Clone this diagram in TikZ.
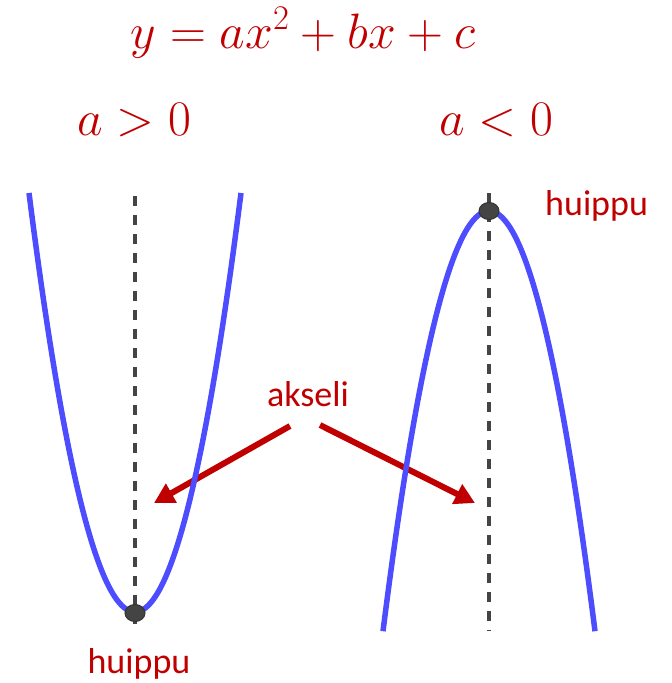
\documentclass[tikz,border=0pt]{standalone}
\usepackage{fontspec}
\newfontfamily\lblfont{Carlito}
\usetikzlibrary{arrows.meta,shapes.geometric}
\definecolor{dred}{RGB}{192,0,0}
\definecolor{pblue}{RGB}{77,77,255}
\definecolor{dgray}{RGB}{68,68,68}
\begin{document}
\begin{tikzpicture}[x=1pt,y=-1pt,
  mathtext/.style={text=dred,inner sep=0pt,anchor=base,font=\fontsize{24}{26}\selectfont,scale=2},
  lbltext/.style={text=dred,inner sep=0pt,anchor=base,font=\lblfont\fontsize{36}{40}\selectfont},
  axisline/.style={dgray,line width=4.5pt,dash pattern=on 10pt off 9pt},
  curve/.style={pblue,line width=5.5pt},
  vertexdot/.style={ellipse,fill=dgray,draw=black!80,line width=1pt,minimum width=20pt,minimum height=17pt,inner sep=0pt},
  pointer/.style={dred,line width=6pt,-{Triangle[length=20pt,width=21pt]}}]
\useasboundingbox (0,0) rectangle (672,683);
% texts
\node[mathtext] (title) at (303,48) {$y=ax^2+bx+c$};
\node[mathtext] (apos) at (134,135) {$a>0$};
\node[mathtext] (aneg) at (496,135) {$a<0$};
\node[lbltext] (akseli) at (308,406) {akseli};
\node[lbltext,anchor=base west] (huiR) at (545,215) {huippu};
\node[lbltext] (huiL) at (139,673) {huippu};
% axes
\coordinate (axLtop) at (135,196);
\coordinate (axLbot) at (135,631);
\coordinate (axRtop) at (489,193);
\coordinate (axRbot) at (489,631);
\draw[axisline] (axLtop) -- (axLbot);
\draw[axisline] (axRtop) -- (axRbot);
% arrows
\coordinate (arLs) at (290,426);
\coordinate (arLe) at (154,503);
\coordinate (arRs) at (320,425);
\coordinate (arRe) at (475,503);
\draw[pointer] (arLs) -- (arLe);
\draw[pointer] (arRs) -- (arRe);
% parabolas
\draw[curve] plot[domain=29:241,samples=90,smooth] (\x,{612-0.0373*(\x-135)^2});
\draw[curve] plot[domain=383:595,samples=90,smooth] (\x,{211+0.0374*(\x-489)^2});
% vertices
\node[vertexdot] (vL) at (135,613) {};
\node[vertexdot] (vR) at (489,211) {};
\end{tikzpicture}
\end{document}
